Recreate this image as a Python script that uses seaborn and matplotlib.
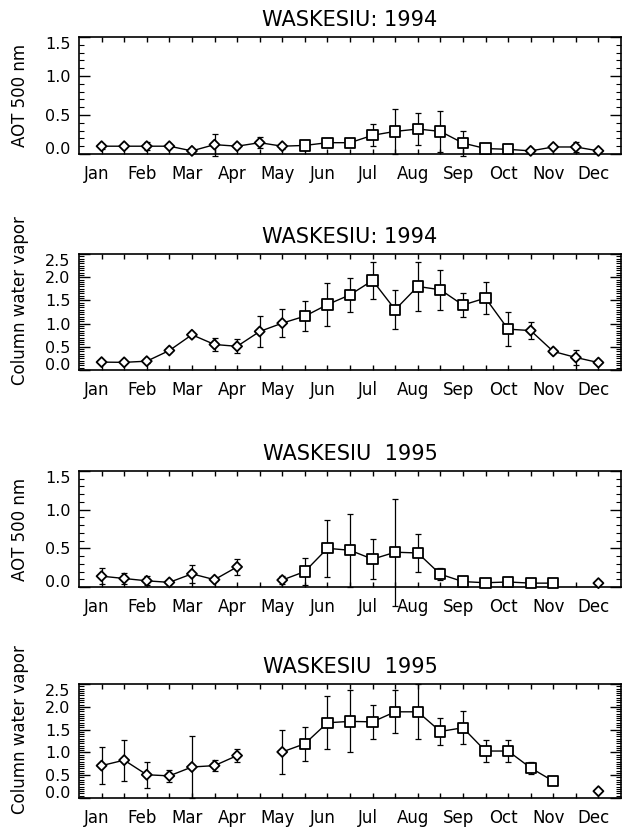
import numpy as np
import pandas as pd
import matplotlib
matplotlib.use("Agg")
import matplotlib.pyplot as plt
import seaborn as sns

# ---------------- data ----------------
months = ["Jan", "Feb", "Mar", "Apr", "May", "Jun",
          "Jul", "Aug", "Sep", "Oct", "Nov", "Dec"]
# half-month positions (in months along the x axis)
half_month = [0.5, 1.0, 1.5, 2.0, 2.5, 3.0, 3.5, 4.0, 4.5, 5.0, 5.5, 6.0,
              6.5, 7.0, 7.5, 8.0, 8.5, 9.0, 9.5, 10.0, 10.5, 11.0, 11.5]

aot_1994 = [0.10, 0.10, 0.10, 0.10, 0.04, 0.12, 0.10, 0.145, 0.10, 0.11, 0.145, 0.145,
            0.24, 0.29, 0.32, 0.29, 0.14, 0.07, 0.06, 0.04, 0.09, 0.09, 0.04]
aot_1994_err = [0.03, 0.02, 0.05, 0.0, 0.0, 0.14, 0.02, 0.07, 0.03, 0.03, 0.03, 0.03,
                0.14, 0.29, 0.20, 0.26, 0.16, 0.02, 0.02, 0.0, 0.0, 0.06, 0.0]
aot_1994_kind = list("DDDDDDDDDSSSSSSSSSSDDDD")

cwv_1994 = [0.17, 0.165, 0.19, 0.42, 0.76, 0.55, 0.51, 0.83, 1.01, 1.16, 1.41, 1.62,
            1.93, 1.30, 1.80, 1.73, 1.40, 1.55, 0.88, 0.85, 0.40, 0.27, 0.16]
cwv_1994_err = [0.02, 0.02, 0.03, 0.03, 0.03, 0.15, 0.15, 0.34, 0.30, 0.32, 0.47, 0.36,
                0.39, 0.42, 0.53, 0.43, 0.26, 0.35, 0.36, 0.19, 0.03, 0.17, 0.02]
cwv_1994_kind = list("DDDDDDDDDSSSSSSSSSSDDDD")

aot_1995 = [0.14, 0.11, 0.08, 0.06, 0.17, 0.095, 0.26, np.nan, 0.09, 0.20, 0.50, 0.475,
            0.36, 0.45, 0.44, 0.165, 0.07, 0.055, 0.065, 0.05, 0.05, np.nan, 0.05]
aot_1995_err = [0.10, 0.07, 0.06, 0.0, 0.12, 0.02, 0.10, 0.0, 0.05, 0.18, 0.37, 0.47,
                0.26, 0.69, 0.25, 0.08, 0.0, 0.0, 0.03, 0.0, 0.0, 0.0, 0.0]
aot_1995_kind = list("DDDDDDDDDSSSSSSSSSSSSSD")

cwv_1995 = [0.71, 0.83, 0.51, 0.485, 0.68, 0.71, 0.93, np.nan, 1.01, 1.19, 1.65, 1.68,
            1.67, 1.89, 1.89, 1.46, 1.54, 1.03, 1.03, 0.66, 0.37, np.nan, 0.15]
cwv_1995_err = [0.41, 0.45, 0.29, 0.14, 0.67, 0.12, 0.15, 0.0, 0.49, 0.37, 0.58, 0.68,
                0.38, 0.47, 0.60, 0.29, 0.36, 0.25, 0.25, 0.14, 0.04, 0.0, 0.0]
cwv_1995_kind = list("DDDDDDDDDSSSSSSSSSSSSSD")

titles = ["WASKESIU: 1994", "WASKESIU: 1994", "WASKESIU  1995", "WASKESIU  1995"]
ylabels = ["AOT 500 nm", "Column water vapor", "AOT 500 nm", "Column water vapor"]
y_max = [1.5, 2.5, 1.5, 2.5]
y_minor = [0.1, 0.05, 0.1, 0.05]
series = [(aot_1994, aot_1994_err, aot_1994_kind),
          (cwv_1994, cwv_1994_err, cwv_1994_kind),
          (aot_1995, aot_1995_err, aot_1995_kind),
          (cwv_1995, cwv_1995_err, cwv_1995_kind)]

# ---------------- style ----------------
sns.set_theme(style="white")
plt.rcParams["font.family"] = ["DejaVu Sans"]
plt.rcParams["text.color"] = "black"
plt.rcParams["axes.labelcolor"] = "black"
plt.rcParams["xtick.color"] = "black"
plt.rcParams["ytick.color"] = "black"

fig = plt.figure(figsize=(6.24, 8.31), dpi=100)
W, H = 624.0, 831.0
panel_px = [(37, 154), (254, 370), (471, 587), (684, 798)]
left_px, right_px = 79, 621

for k, (top, bot) in enumerate(panel_px):
    ax = fig.add_axes([left_px / W, 1 - bot / H, (right_px - left_px) / W, (bot - top) / H])
    vals, errs, kinds = series[k]
    df = pd.DataFrame({"x": half_month, "y": vals, "err": errs, "kind": kinds})
    df["seg"] = df["y"].isna().cumsum()
    d = df.dropna(subset=["y"])

    sns.lineplot(data=d, x="x", y="y", units="seg", estimator=None, sort=False,
                 color="black", linewidth=1.0, ax=ax, legend=False, zorder=2)
    e = d[d["err"] > 0]
    ax.errorbar(e["x"], e["y"], yerr=e["err"], fmt="none", ecolor="black",
                elinewidth=0.9, capsize=2.5, capthick=0.9, clip_on=False, zorder=2)
    sns.scatterplot(data=d, x="x", y="y", style="kind", size="kind",
                    markers={"D": "D", "S": "s"}, sizes={"D": 26, "S": 55},
                    color="white", edgecolor="black", linewidth=1.3,
                    ax=ax, legend=False, zorder=4, clip_on=False)

    ax.set_xlim(0, 12)
    ax.set_ylim(0, y_max[k])
    ax.set_xlabel("")
    ax.set_ylabel(ylabels[k], fontsize=12, color="black")
    ax.yaxis.set_label_coords(-0.092, 0.5 if k % 2 == 0 else 0.6)
    ax.set_title(titles[k], fontsize=15, pad=8, color="black")

    # x axis: month labels (no tick mark) + half-month inward ticks
    ax.set_xticks([m + 0.4 for m in range(12)])
    ax.set_xticklabels(months, fontsize=12)
    ax.set_xticks(half_month, minor=True)
    ax.tick_params(axis="x", which="major", length=0, pad=8)
    ax.tick_params(axis="x", which="minor", direction="in", length=3.5, width=1,
                   top=True, bottom=True, color="black")

    # y axis
    yt = np.arange(0, y_max[k] + 0.01, 0.5)
    ax.set_yticks(yt)
    ax.set_yticklabels([f"{v:.1f}" for v in yt], fontsize=11.5)
    ax.set_yticks(np.arange(0, y_max[k] + 0.001, y_minor[k]), minor=True)
    ax.tick_params(axis="y", which="major", direction="in", length=8, width=1,
                   left=True, right=True, color="black", pad=6)
    ax.tick_params(axis="y", which="minor", direction="in", length=3.5, width=0.8,
                   left=True, right=True, color="black")
    labs = ax.get_yticklabels()
    labs[0].set_va("baseline")
    labs[-1].set_va("top")

    for s in ax.spines.values():
        s.set_color("black")
        s.set_linewidth(1.2)
    ax.set_facecolor("white")

fig.savefig("out.png", dpi=100, facecolor="white")
